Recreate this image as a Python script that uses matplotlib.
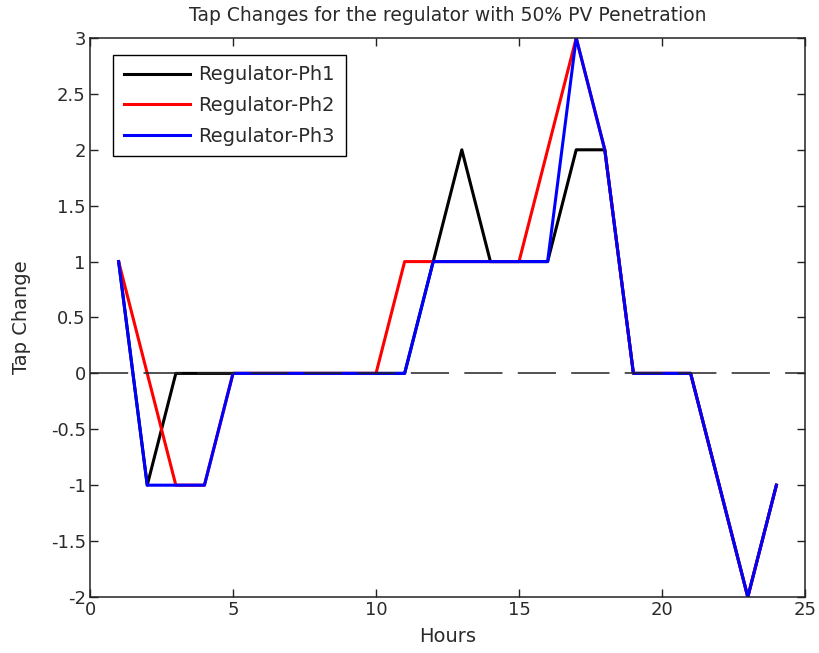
import matplotlib
matplotlib.use('Agg')
import matplotlib.pyplot as plt

hours = list(range(1, 25))
ph1 = [1, -1, 0, 0, 0, 0, 0, 0, 0, 0, 0, 1, 2, 1, 1, 1, 2, 2, 0, 0, 0, -1, -2, -1]
ph2 = [1, 0, -1, -1, 0, 0, 0, 0, 0, 0, 1, 1, 1, 1, 1, 2, 3, 2, 0, 0, 0, -1, -2, -1]
ph3 = [1, -1, -1, -1, 0, 0, 0, 0, 0, 0, 0, 1, 1, 1, 1, 1, 3, 2, 0, 0, 0, -1, -2, -1]
labels = ['Regulator-Ph1', 'Regulator-Ph2', 'Regulator-Ph3']
colors = ['black', 'red', 'blue']

plt.rcParams['font.family'] = ['DejaVu Sans']
txt = '#2a2a2a'

fig = plt.figure(figsize=(8.2, 6.53), dpi=100)
ax = fig.add_axes([0.1098, 0.0858, 0.8719, 0.856])

for y, lab, c in zip([ph1, ph2, ph3], labels, colors):
    ax.plot(hours, y, color=c, linewidth=2.2, label=lab)

# zero reference line
ax.plot([0, 25], [0, 0], color='#222222', linewidth=1.1, dashes=(25, 10), zorder=5)

ax.set_xlim(0, 25)
ax.set_ylim(-2, 3)
ax.set_xticks([0, 5, 10, 15, 20, 25])
ax.set_yticks([-2, -1.5, -1, -0.5, 0, 0.5, 1, 1.5, 2, 2.5, 3])
ax.set_yticklabels(['-2', '-1.5', '-1', '-0.5', '0', '0.5', '1', '1.5', '2', '2.5', '3'])
ax.tick_params(direction='in', length=6, width=1, top=True, right=True,
               labelsize=13, colors='#222222', labelcolor=txt, pad=3)
for s in ax.spines.values():
    s.set_linewidth(1.1)
    s.set_color('#222222')

ax.set_xlabel('Hours', fontsize=14, labelpad=6, color=txt)
ax.set_ylabel('Tap Change', fontsize=14, labelpad=14, color=txt)
ax.set_title('Tap Changes for the regulator with 50% PV Penetration', fontsize=13.5, pad=12, color=txt)

leg = ax.legend(loc='upper left', bbox_to_anchor=(0.032, 0.97), borderaxespad=0,
                fontsize=14, handlelength=3.4, fancybox=False, edgecolor='black',
                framealpha=1, borderpad=0.55, labelspacing=0.6, handletextpad=0.45)
leg.get_frame().set_linewidth(1.0)
for t in leg.get_texts():
    t.set_color(txt)

fig.savefig('out.png', dpi=100)
